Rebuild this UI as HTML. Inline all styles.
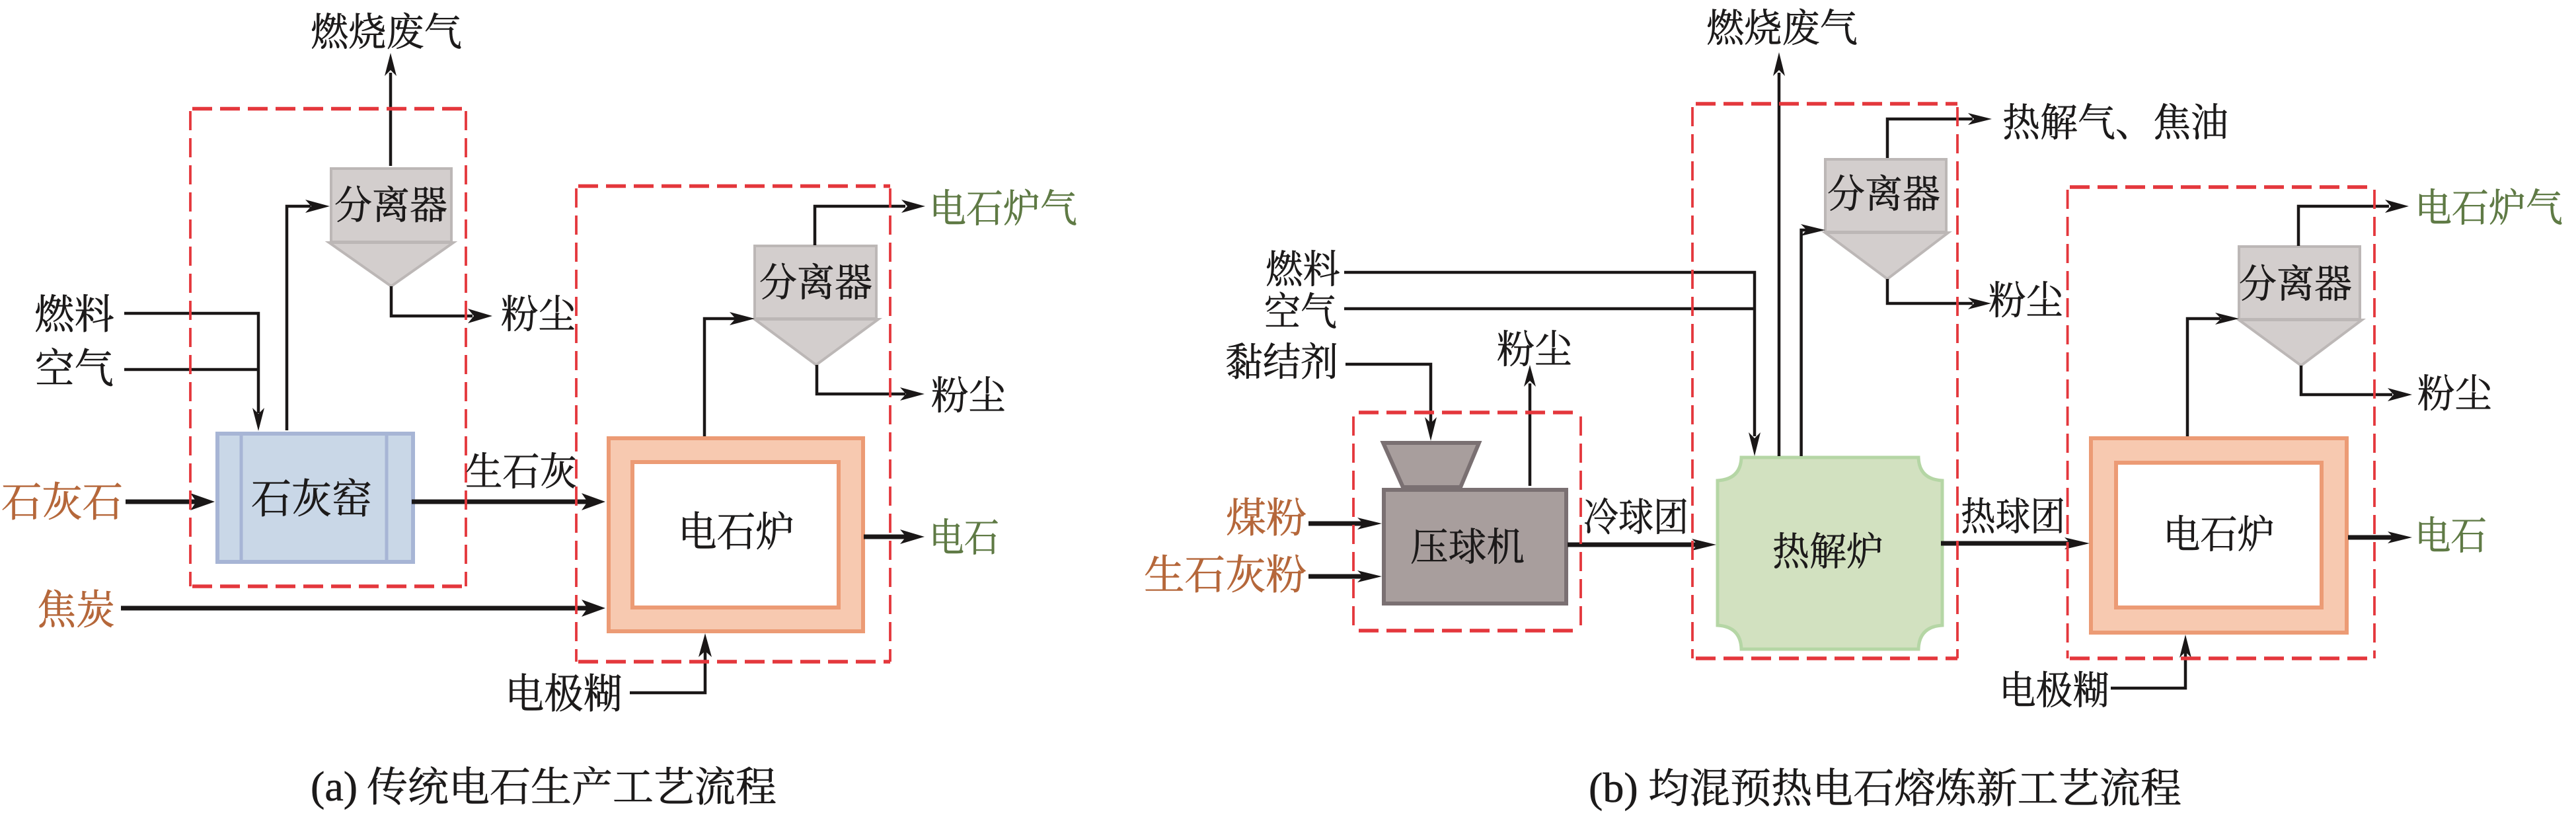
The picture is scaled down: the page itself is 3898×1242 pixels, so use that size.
<!DOCTYPE html>
<html><head><meta charset="utf-8"><style>
html,body{margin:0;padding:0;background:#fff}
svg{display:block}
text{font-family:"Noto Serif CJK SC","Liberation Serif",serif;font-size:59px;fill:#1c1a1a;stroke:#1c1a1a;stroke-width:.6}
.b{font-size:62px}
.o{fill:#b5673a;stroke:#b5673a}.g{fill:#5f7a45;stroke:#5f7a45}
.l{fill:none;stroke:#1a1717;stroke-width:4.5;stroke-linejoin:miter}
.t{fill:none;stroke:#1a1717;stroke-width:7}
.a{fill:#1a1717}
.h{fill:none;stroke:#e4373c;stroke-width:5.5;stroke-dasharray:30 12}
.v{fill:none;stroke:#e4373c;stroke-width:3.8;stroke-dasharray:29 12}
.sep{fill:#d3cecd;stroke:#bcb7b6;stroke-width:4}
.cap{font-family:"Liberation Serif",serif;font-size:64px}
</style></head><body>
<svg xmlns="http://www.w3.org/2000/svg" width="3898" height="1242" viewBox="0 0 3898 1242">
<rect width="3898" height="1242" fill="#fff"/>

<!-- LEFT nodes -->
<rect x="329" y="656" width="296" height="194" fill="#c9d7e7" stroke="#a7b5d5" stroke-width="6"/>
<path d="M365 656V850M585 656V850" stroke="#a7b5d5" stroke-width="5" fill="none"/>
<rect x="921" y="663" width="385" height="292" fill="#f7c9b0" stroke="#ec9b75" stroke-width="6"/>
<rect x="957" y="699" width="312" height="220" fill="#fff" stroke="#ec9b75" stroke-width="6"/>
<path class="sep" d="M501 255H683V366H501Z"/><path class="sep" d="M498 367H686L592 433Z"/>
<path class="sep" d="M1142 372H1326V482H1142Z"/><path class="sep" d="M1142 483H1329L1235 552Z"/>

<!-- LEFT lines -->
<path class="l" d="M591 251V110"/><polygon class="a" points="591,80 600,115 591,106 582,115"/>
<path class="l" d="M434 651V312H470"/><polygon class="a" points="499,312 462,302 471,312 462,322"/>
<path class="l" d="M592 433V478H715"/><polygon class="a" points="745,478 708,467 717,478 708,489"/>
<path class="l" d="M188 474H391V625M188 559H391"/><polygon class="a" points="391,652 382,617 391,626 400,617"/>
<path class="t" d="M190 759H300"/><polygon class="a" points="325,759 288,746 297,759 288,772"/>
<path class="t" d="M623 759H890"/><polygon class="a" points="916,759 880,746 889,759 880,772"/>
<path class="t" d="M183 920H890"/><polygon class="a" points="916,920 880,907 889,920 880,933"/>
<path class="l" d="M1066 660V482H1115"/><polygon class="a" points="1142,482 1104,472 1113,482 1104,492"/>
<path class="l" d="M1233 371V312H1370"/><polygon class="a" points="1400,312 1364,302 1373,312 1364,322"/>
<path class="l" d="M1236 552V596H1370"/><polygon class="a" points="1399,596 1362,586 1371,596 1362,606"/>
<path class="t" d="M1307 812H1372"/><polygon class="a" points="1399,812 1362,801 1371,812 1362,823"/>
<path class="l" d="M953 1048H1067V985"/><polygon class="a" points="1067,958 1077,994 1067,985 1057,994"/>

<!-- RIGHT nodes -->
<path d="M2093 670H2238L2210 737H2123Z" fill="#a89e9d" stroke="#7a7072" stroke-width="6"/>
<rect x="2094" y="741" width="276" height="172" fill="#a89e9d" stroke="#7a7072" stroke-width="6"/>
<path d="M2635 692H2903Q2904 725 2939 727V946Q2904 948 2903 982H2635Q2634 948 2599 946V727Q2634 725 2635 692Z" fill="#d2e1c0" stroke="#b5d6a5" stroke-width="5"/>
<rect x="3164" y="663" width="387" height="294" fill="#f7c9b0" stroke="#ec9b75" stroke-width="6"/>
<rect x="3202" y="700" width="311" height="219" fill="#fff" stroke="#ec9b75" stroke-width="6"/>
<path class="sep" d="M2762 241H2945V351H2762Z"/><path class="sep" d="M2762 352H2948L2856 422Z"/>
<path class="sep" d="M3388 373H3571V483H3388Z"/><path class="sep" d="M3388 484H3574L3482 553Z"/>

<!-- RIGHT lines -->
<path class="l" d="M2034 412H2655V660M2034 467H2655"/><polygon class="a" points="2655,690 2646,654 2655,663 2664,654"/>
<path class="l" d="M2036 551H2165V640"/><polygon class="a" points="2165,667 2156,631 2165,640 2174,631"/>
<path class="l" d="M2315 735V580"/><polygon class="a" points="2315,552 2306,585 2315,576 2324,585"/>
<path class="t" d="M1980 792H2065"/><polygon class="a" points="2091,792 2054,783 2063,792 2054,801" />
<path class="t" d="M1980 872H2065"/><polygon class="a" points="2091,872 2054,863 2063,872 2054,881"/>
<path class="t" d="M2372 824H2570"/><polygon class="a" points="2597,824 2560,815 2569,824 2560,833"/>
<path class="l" d="M2692 690V110"/><polygon class="a" points="2692,79 2701,115 2692,106 2683,115"/>
<path class="l" d="M2725.6 690V348H2735"/><polygon class="a" points="2762,348 2725,339 2734,348 2725,357"/>
<path class="l" d="M2856 239V180H2985"/><polygon class="a" points="3014,180 2978,171 2987,180 2978,189"/>
<path class="l" d="M2856 422V459H2985"/><polygon class="a" points="3013,459 2978,450 2987,459 2978,468"/>
<path class="t" d="M2937 822H3135"/><polygon class="a" points="3162,822 3124,813 3133,822 3124,831"/>
<path class="t" d="M3553 813H3622"/><polygon class="a" points="3650,813 3613,804 3622,813 3613,822"/>
<path class="l" d="M3194 1041H3307V985"/><polygon class="a" points="3307,960 3316,995 3307,986 3298,995"/>
<path class="l" d="M3310 660V482H3360"/><polygon class="a" points="3388,482 3352,473 3361,482 3352,491"/>
<path class="l" d="M3478 372V312H3615"/><polygon class="a" points="3645,312 3609,302 3618,312 3609,322"/>
<path class="l" d="M3482 553V597H3620"/><polygon class="a" points="3650,597 3613,587 3622,597 3613,607"/>

<!-- dashed frames -->
<path class="h" d="M291 164.5H705M291 887H705"/><path class="v" d="M288 168V887M705 168V887"/>
<path class="h" d="M875 281.5H1347M875 1001H1347"/><path class="v" d="M872 285V1001M1347 285V1001"/>
<path class="h" d="M2056 624H2392M2056 954H2392"/><path class="v" d="M2048 630V954M2392 630V954"/>
<path class="h" d="M2566 157H2962M2566 996H2962"/><path class="v" d="M2561 162V996M2962 162V996"/>
<path class="h" d="M3132 283H3593M3132 996H3593"/><path class="v" d="M3128.6 287V996M3593 287V996"/>

<!-- LEFT text -->
<text x="470" y="69" textLength="229" lengthAdjust="spacingAndGlyphs">燃烧废气</text>
<text x="506" y="331" textLength="171" lengthAdjust="spacingAndGlyphs">分离器</text>
<text x="758" y="496" textLength="113" lengthAdjust="spacingAndGlyphs">粉尘</text>
<text class="b" x="52" y="497" textLength="121" lengthAdjust="spacingAndGlyphs">燃料</text>
<text class="b" x="53" y="579" textLength="119" lengthAdjust="spacingAndGlyphs">空气</text>
<text class="b" x="380" y="776" textLength="183" lengthAdjust="spacingAndGlyphs">石灰窑</text>
<text class="o b" x="2" y="781" textLength="184" lengthAdjust="spacingAndGlyphs">石灰石</text>
<text x="704" y="734" textLength="169" lengthAdjust="spacingAndGlyphs">生石灰</text>
<text class="o b" x="56" y="944" textLength="118" lengthAdjust="spacingAndGlyphs">焦炭</text>
<text class="b" x="1026" y="826" textLength="176" lengthAdjust="spacingAndGlyphs">电石炉</text>
<text x="1149" y="448" textLength="171" lengthAdjust="spacingAndGlyphs">分离器</text>
<text class="g" x="1406" y="336" textLength="224" lengthAdjust="spacingAndGlyphs">电石炉气</text>
<text x="1409" y="619" textLength="113" lengthAdjust="spacingAndGlyphs">粉尘</text>
<text class="g" x="1406" y="834" textLength="106" lengthAdjust="spacingAndGlyphs">电石</text>
<text class="b" x="764" y="1071" textLength="178" lengthAdjust="spacingAndGlyphs">电极糊</text>
<text class="cap" x="470" y="1211">(a)</text>
<text class="b" x="555" y="1212" textLength="620" lengthAdjust="spacingAndGlyphs">传统电石生产工艺流程</text>

<!-- RIGHT text -->
<text x="1915" y="428" textLength="113" lengthAdjust="spacingAndGlyphs">燃料</text>
<text x="1913" y="492" textLength="110" lengthAdjust="spacingAndGlyphs">空气</text>
<text x="1854" y="568" textLength="171" lengthAdjust="spacingAndGlyphs">黏结剂</text>
<text x="2265" y="549" textLength="114" lengthAdjust="spacingAndGlyphs">粉尘</text>
<text x="2134" y="848" textLength="173" lengthAdjust="spacingAndGlyphs">压球机</text>
<text class="o b" x="1855" y="805" textLength="122" lengthAdjust="spacingAndGlyphs">煤粉</text>
<text class="o b" x="1731" y="891" textLength="246" lengthAdjust="spacingAndGlyphs">生石灰粉</text>
<text x="2396" y="803" textLength="159" lengthAdjust="spacingAndGlyphs">冷球团</text>
<text x="2682" y="855" textLength="168" lengthAdjust="spacingAndGlyphs">热解炉</text>
<text x="2967" y="802" textLength="158" lengthAdjust="spacingAndGlyphs">热球团</text>
<text x="3273" y="829" textLength="169" lengthAdjust="spacingAndGlyphs">电石炉</text>
<text class="g" x="3654" y="831" textLength="109" lengthAdjust="spacingAndGlyphs">电石</text>
<text x="3025" y="1065" textLength="167" lengthAdjust="spacingAndGlyphs">电极糊</text>
<text x="2582" y="63" textLength="229" lengthAdjust="spacingAndGlyphs">燃烧废气</text>
<text x="3030" y="206" textLength="342" lengthAdjust="spacingAndGlyphs">热解气、焦油</text>
<text x="2765" y="314" textLength="171" lengthAdjust="spacingAndGlyphs">分离器</text>
<text x="3009" y="475" textLength="113" lengthAdjust="spacingAndGlyphs">粉尘</text>
<text x="3388" y="450" textLength="171" lengthAdjust="spacingAndGlyphs">分离器</text>
<text class="g" x="3654" y="335" textLength="224" lengthAdjust="spacingAndGlyphs">电石炉气</text>
<text x="3658" y="616" textLength="113" lengthAdjust="spacingAndGlyphs">粉尘</text>
<text class="cap" x="2404" y="1213">(b)</text>
<text class="b" x="2494" y="1214" textLength="807" lengthAdjust="spacingAndGlyphs">均混预热电石熔炼新工艺流程</text>
</svg>
</body></html>
